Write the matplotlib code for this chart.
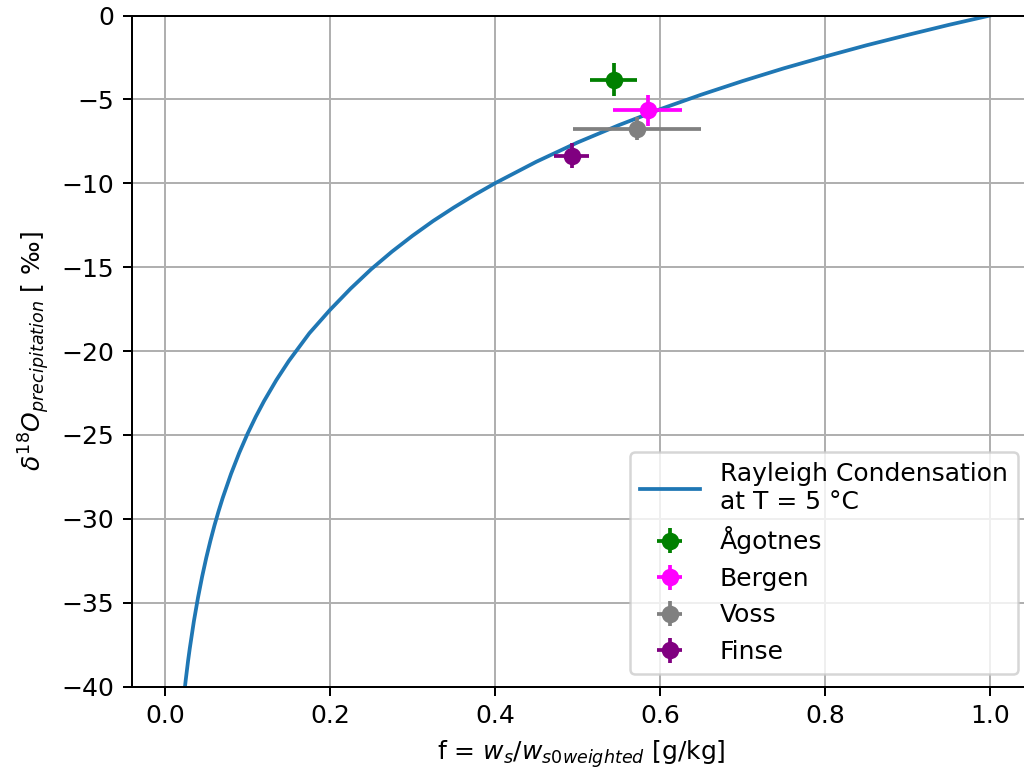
import matplotlib
matplotlib.use("Agg")
import matplotlib.pyplot as plt
import numpy as np

# Rayleigh curve, values
f_curve = [0.020, 0.022, 0.025, 0.028, 0.030, 0.035, 0.040, 0.045, 0.050,
           0.055, 0.060, 0.065, 0.070, 0.080, 0.090, 0.100, 0.110, 0.120,
           0.135, 0.150, 0.175, 0.200, 0.225, 0.250, 0.275, 0.300, 0.325,
           0.350, 0.375, 0.400, 0.450, 0.500, 0.550, 0.600, 0.650, 0.700,
           0.750, 0.800, 0.850, 0.900, 0.950, 1.000]
d18o_curve = [-42.01, -41.00, -39.66, -38.46, -37.74, -36.11, -34.70, -33.45,
              -32.33, -31.32, -30.39, -29.54, -28.75, -27.33, -26.07, -24.94,
              -23.92, -22.99, -21.73, -20.60, -18.94, -17.55, -16.28, -15.12,
              -14.08, -13.13, -12.25, -11.45, -10.70, -10.00, -8.72, -7.57,
              -6.54, -5.59, -4.72, -3.91, -3.15, -2.45, -1.78, -1.16, -0.56,
              0.0]

# station data
stations = ["Ågotnes", "Bergen", "Voss", "Finse"]
colors = ["green", "magenta", "grey", "purple"]
f_obs = [0.544, 0.585, 0.572, 0.493]
f_err = [0.0285, 0.042, 0.078, 0.021]
d18o_obs = [-3.82, -5.66, -6.74, -8.35]
d18o_err = [1.0, 0.95, 0.7, 0.75]

fig = plt.figure(figsize=(1024 / 180, 772 / 180), dpi=180)
ax = fig.add_axes([132 / 1024, 1 - 686.5 / 772, (1030 - 132) / 1024, (686.5 - 15.5) / 772])

ax.plot(f_curve, d18o_curve, label="Rayleigh Condensation\nat T = 5 °C")

for name, c, x, xe, y, ye in zip(stations, colors, f_obs, f_err, d18o_obs, d18o_err):
    ax.errorbar(x, y, xerr=xe, yerr=ye, fmt="o", color=c, label=name)

ax.set_xlim(-0.04, 1.0485)
ax.set_ylim(-40, 0)
ax.set_xticks(np.arange(0, 1.01, 0.2))
ax.set_yticks(np.arange(-40, 1, 5))
ax.grid(True)

ax.set_xlabel(r"f = $w_s/w_{s0weighted}$ [g/kg]")
ax.set_ylabel(r"$\delta^{18}O_{precipitation}$ [ ‰]")
ax.legend(loc="lower right", handlelength=2.4)

fig.savefig("out.png", dpi=180)
